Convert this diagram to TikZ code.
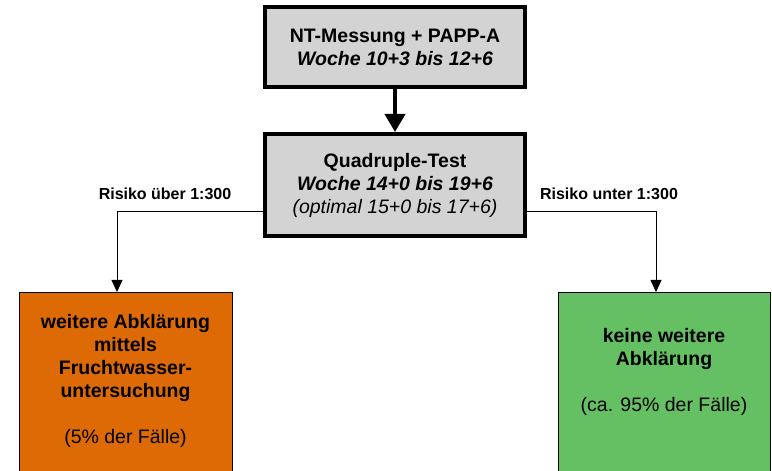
\documentclass[tikz,border=0pt]{standalone}
\usepackage{fontspec}
\setmainfont{Liberation Sans}
\usetikzlibrary{arrows.meta}
\definecolor{boxgray}{RGB}{211,211,211}
\definecolor{boxorange}{RGB}{222,106,6}
\definecolor{boxgreen}{RGB}{100,192,98}
\begin{document}
\begin{tikzpicture}[x=1pt,y=1pt,
  graybox/.style={draw=black,line width=4pt,fill=boxgray,minimum width=260pt,inner sep=0pt,align=center,font=\fontsize{19.5}{23}\selectfont},
  colbox/.style={draw=black,line width=0.8pt,minimum width=213pt,minimum height=220pt,inner sep=0pt,anchor=north},
  boxtext/.style={align=center,inner sep=0pt,font=\fontsize{19.5}{23}\selectfont\bfseries},
  risk/.style={font=\fontsize{16}{19}\selectfont\bfseries,inner sep=0pt,anchor=base},
  thin/.style={line width=0.8pt,-{Triangle[length=12pt,width=11pt]}},
  thick/.style={line width=4pt,-{Triangle[length=18pt,width=20pt]}}
]
\useasboundingbox (0,0) rectangle (772,471);
\clip (0,0) rectangle (772,471);
\fill[white] (0,0) rectangle (772,471);
\node[graybox,minimum height=80pt] (nt) at (395,424) {\textbf{NT-Messung + PAPP-A}\\\textbf{\itshape Woche 10+3 bis 12+6}};
\node[graybox,minimum height=102pt] (quad) at (395,286) {\textbf{Quadruple-Test}\\\textbf{\itshape Woche 14+0 bis 19+6}\\\itshape (optimal 15+0 bis 17+6)};
\node[colbox,fill=boxorange] (fw) at (125.5,179) {};
\node[colbox,fill=boxgreen,minimum width=212pt] (keine) at (664,179) {};
\node[boxtext,anchor=north] (fwtext) at ([yshift=-22pt]fw.north) {weitere Abklärung\\mittels\\Fruchtwasser-\\untersuchung\\[23pt]\mdseries(5\% der Fälle)};
\node[boxtext,anchor=north] (keinetext) at ([yshift=-36pt]keine.north) {keine weitere\\Abklärung\\[23pt]\mdseries(ca. 95\% der Fälle)};
\draw[thick] (nt.south) -- (quad.north);
\coordinate (lturn) at (117,260);
\coordinate (rturn) at (656,260);
\draw[thin] (quad.west |- lturn) -- (lturn) -- (lturn |- fw.north);
\draw[thin] (quad.east |- rturn) -- (rturn) -- (rturn |- keine.north);
\node[risk] (lrisk) at (165,271) {Risiko über 1:300};
\node[risk] (rrisk) at (609,271) {Risiko unter 1:300};
\end{tikzpicture}
\end{document}
